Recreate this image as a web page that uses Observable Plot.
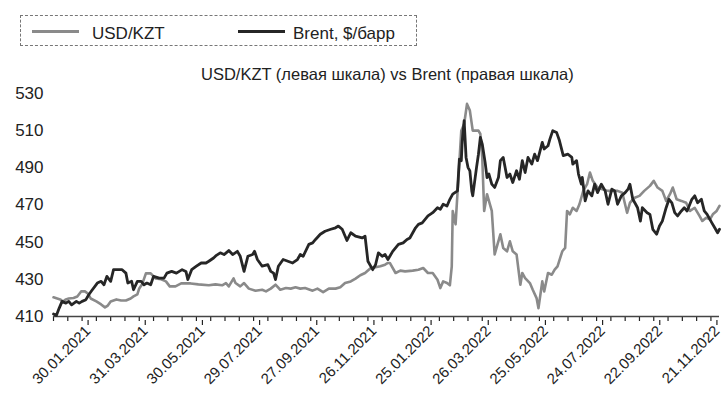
<!DOCTYPE html>
<html>
<head>
<meta charset="utf-8">
<script src="https://cdn.jsdelivr.net/npm/d3@7"></script>
<script src="https://cdn.jsdelivr.net/npm/@observablehq/plot@0.6"></script>
<style>
  html, body { margin: 0; padding: 0; background: #fff; }
  #wrap { width: 726px; height: 418px; position: relative; overflow: hidden; }
  #head { position: relative; width: 726px; height: 82px; font-family: "Liberation Sans", Arial, sans-serif; color: #222; }
  .box { position: absolute; left: 20px; top: 15px; width: 397px; height: 31px; border: 1px dashed #777; box-sizing: border-box; }
  .swatch { position: absolute; top: 30px; width: 47px; height: 3px; }
  .ltext { position: absolute; top: 25px; font-size: 17px; line-height: 17px; white-space: nowrap; }
  .title { position: absolute; left: 201px; top: 66px; font-size: 16.5px; line-height: 16.5px; white-space: nowrap; }
</style>
</head>
<body>
<div id="wrap">
  <div id="head">
    <div class="box"></div>
    <div class="swatch" style="left:32px;background:#8a8a8a"></div>
    <div class="ltext" style="left:92px">USD/KZT</div>
    <div class="swatch" style="left:238px;background:#262626"></div>
    <div class="ltext" style="left:293px">Brent, $/барр</div>
    <div class="title">USD/KZT (левая шкала) vs Brent (правая шкала)</div>
  </div>
  <div id="chart"></div>
</div>
<script>
// USD/KZT, left scale
const kztDates = ["2020-12-31","2021-01-07","2021-01-10","2021-01-13","2021-01-16","2021-01-21","2021-01-25","2021-01-29","2021-02-02","2021-02-05","2021-02-08","2021-02-14","2021-02-19","2021-02-23","2021-02-26","2021-03-01","2021-03-07","2021-03-12","2021-03-17","2021-03-22","2021-03-25","2021-03-29","2021-03-31","2021-04-03","2021-04-07","2021-04-12","2021-04-17","2021-04-23","2021-04-28","2021-05-02","2021-05-08","2021-05-14","2021-05-24","2021-06-01","2021-06-12","2021-06-19","2021-06-26","2021-06-30","2021-07-03","2021-07-08","2021-07-10","2021-07-15","2021-07-19","2021-07-24","2021-07-31","2021-08-07","2021-08-11","2021-08-16","2021-08-21","2021-08-26","2021-09-01","2021-09-06","2021-09-11","2021-09-16","2021-09-21","2021-09-29","2021-10-04","2021-10-10","2021-10-16","2021-10-23","2021-10-28","2021-11-02","2021-11-08","2021-11-13","2021-11-18","2021-11-23","2021-11-29","2021-12-04","2021-12-09","2021-12-14","2021-12-17","2021-12-19","2021-12-25","2021-12-30","2022-01-04","2022-01-12","2022-01-18","2022-01-23","2022-01-28","2022-02-02","2022-02-07","2022-02-10","2022-02-13","2022-02-17","2022-02-20","2022-02-22","2022-02-23","2022-02-26","2022-03-01","2022-03-04","2022-03-07","2022-03-10","2022-03-13","2022-03-16","2022-03-22","2022-03-24","2022-03-26","2022-03-28","2022-03-31","2022-04-05","2022-04-08","2022-04-14","2022-04-17","2022-04-21","2022-04-24","2022-04-27","2022-05-01","2022-05-05","2022-05-07","2022-05-10","2022-05-15","2022-05-18","2022-05-22","2022-05-24","2022-05-28","2022-05-30","2022-06-03","2022-06-07","2022-06-10","2022-06-13","2022-06-18","2022-06-21","2022-06-23","2022-06-26","2022-06-29","2022-07-03","2022-07-06","2022-07-10","2022-07-14","2022-07-17","2022-07-20","2022-07-25","2022-07-30","2022-08-05","2022-08-10","2022-08-15","2022-08-20","2022-08-25","2022-08-28","2022-09-02","2022-09-07","2022-09-12","2022-09-18","2022-09-22","2022-09-26","2022-10-01","2022-10-05","2022-10-09","2022-10-12","2022-10-16","2022-10-21","2022-10-26","2022-10-30","2022-11-04","2022-11-09","2022-11-12","2022-11-16","2022-11-20","2022-11-23","2022-11-27","2022-11-30"];
const kztValues = [420.3,419.2,418.1,419.2,419.7,420.0,420.8,423.5,423.5,422.4,419.7,418.1,416.5,414.9,415.9,418.1,419.2,418.6,418.6,419.7,420.8,421.9,425.1,427.3,433.2,433.2,430.5,430.0,428.9,426.2,426.2,427.8,427.8,427.3,426.8,427.3,426.8,428.0,426.2,430.5,428.0,426.2,428.0,425.0,423.9,424.4,423.5,425.0,427.1,424.4,425.3,425.0,425.7,425.0,425.3,423.9,425.0,423.1,425.0,425.0,425.7,428.0,428.9,430.4,432.2,433.4,436.1,436.5,437.0,437.9,438.8,438.8,433.4,434.7,434.3,434.7,435.2,436.1,433.4,433.4,429.8,425.3,428.9,428.0,426.8,437.0,466.8,459.6,484.8,510.0,513.6,524.4,520.8,510.0,510.0,508.2,495.6,466.8,475.8,466.8,443.4,454.2,446.9,445.1,450.5,445.1,443.4,427.1,433.4,430.7,428.0,424.4,419.9,414.5,428.9,423.5,433.4,432.5,435.2,437.0,445.1,446.9,466.8,465.0,468.5,466.8,470.4,477.6,481.2,487.5,483.0,479.4,478.5,477.6,477.6,477.6,476.6,465.8,471.2,473.9,474.9,477.6,480.3,483.0,479.4,477.6,472.2,475.8,479.4,473.1,472.2,471.2,466.8,468.5,464.1,461.4,463.1,462.3,465.0,466.8,469.5];

// Brent, $/bbl, right scale (50..140 mapped onto 410..530)
const brentDates = ["2020-12-31","2021-01-03","2021-01-06","2021-01-09","2021-01-13","2021-01-16","2021-01-19","2021-01-24","2021-01-27","2021-01-30","2021-02-03","2021-02-06","2021-02-09","2021-02-15","2021-02-19","2021-02-22","2021-02-25","2021-03-01","2021-03-04","2021-03-10","2021-03-13","2021-03-17","2021-03-19","2021-03-23","2021-03-25","2021-03-29","2021-04-02","2021-04-05","2021-04-08","2021-04-12","2021-04-15","2021-04-21","2021-04-26","2021-04-29","2021-05-04","2021-05-09","2021-05-15","2021-05-19","2021-05-21","2021-05-25","2021-05-30","2021-06-04","2021-06-09","2021-06-12","2021-06-17","2021-06-20","2021-06-24","2021-06-28","2021-07-03","2021-07-07","2021-07-12","2021-07-15","2021-07-19","2021-07-23","2021-07-28","2021-07-30","2021-08-02","2021-08-07","2021-08-13","2021-08-16","2021-08-19","2021-08-21","2021-08-24","2021-08-29","2021-09-03","2021-09-08","2021-09-13","2021-09-16","2021-09-19","2021-09-25","2021-09-29","2021-10-02","2021-10-07","2021-10-12","2021-10-18","2021-10-23","2021-10-26","2021-10-30","2021-11-04","2021-11-08","2021-11-13","2021-11-20","2021-11-23","2021-11-26","2021-12-01","2021-12-04","2021-12-07","2021-12-11","2021-12-14","2021-12-17","2021-12-22","2021-12-25","2021-12-28","2022-01-02","2022-01-06","2022-01-09","2022-01-15","2022-01-18","2022-01-22","2022-01-25","2022-01-28","2022-02-02","2022-02-07","2022-02-10","2022-02-13","2022-02-17","2022-02-20","2022-02-23","2022-02-28","2022-03-02","2022-03-04","2022-03-05","2022-03-07","2022-03-09","2022-03-11","2022-03-13","2022-03-15","2022-03-16","2022-03-20","2022-03-22","2022-03-24","2022-03-26","2022-03-29","2022-03-31","2022-04-02","2022-04-05","2022-04-08","2022-04-12","2022-04-14","2022-04-17","2022-04-21","2022-04-24","2022-04-27","2022-05-01","2022-05-04","2022-05-07","2022-05-10","2022-05-13","2022-05-17","2022-05-20","2022-05-23","2022-05-28","2022-05-30","2022-06-03","2022-06-05","2022-06-08","2022-06-12","2022-06-15","2022-06-19","2022-06-24","2022-06-28","2022-06-29","2022-07-03","2022-07-05","2022-07-08","2022-07-09","2022-07-12","2022-07-15","2022-07-19","2022-07-22","2022-07-25","2022-07-29","2022-08-02","2022-08-05","2022-08-09","2022-08-12","2022-08-15","2022-08-19","2022-08-23","2022-08-26","2022-08-28","2022-08-31","2022-09-03","2022-09-05","2022-09-08","2022-09-10","2022-09-15","2022-09-18","2022-09-21","2022-09-25","2022-09-28","2022-10-01","2022-10-05","2022-10-08","2022-10-11","2022-10-14","2022-10-17","2022-10-21","2022-10-24","2022-10-27","2022-11-01","2022-11-04","2022-11-07","2022-11-11","2022-11-14","2022-11-17","2022-11-22","2022-11-25","2022-11-28","2022-11-30"];
const brentValues = [51.0,50.4,53.4,56.1,55.4,56.1,54.7,56.1,55.4,56.1,56.8,58.8,60.4,63.5,64.2,62.8,66.2,64.2,68.9,68.9,68.9,67.5,63.5,64.2,60.8,64.2,64.2,62.8,63.5,62.8,66.2,65.5,65.5,67.5,68.2,67.5,68.9,68.2,64.9,68.9,70.3,71.6,71.6,72.3,73.6,74.7,75.7,75.0,76.6,75.0,76.3,74.3,68.2,74.3,75.0,76.3,73.0,70.3,70.9,68.2,67.5,64.9,70.3,73.0,72.3,71.6,73.0,75.0,74.3,79.1,79.7,81.1,83.2,84.4,85.2,85.8,86.5,85.2,80.7,83.8,82.4,81.7,82.4,72.3,68.9,70.9,75.7,74.3,75.0,73.0,76.3,77.7,79.1,79.7,81.1,81.7,85.8,87.2,87.8,89.2,90.6,91.9,93.9,93.3,95.3,94.6,97.3,99.4,100.7,113.5,112.9,120.9,129.0,114.2,110.2,108.8,100.7,98.7,110.2,115.5,122.3,119.6,112.2,106.1,107.5,103.4,102.1,106.1,112.9,114.2,106.1,107.5,104.1,108.8,105.4,112.9,108.1,114.2,111.5,115.5,112.9,120.3,117.6,118.9,121.6,125.0,124.3,121.0,114.9,115.5,114.2,111.5,112.9,107.5,103.4,106.1,96.7,100.7,98.7,103.4,100.0,103.4,100.7,95.3,101.4,100.7,95.3,98.7,100.0,101.4,103.4,97.3,95.3,93.9,88.5,93.9,91.9,91.2,85.2,83.2,86.5,88.5,93.9,97.3,95.9,91.9,90.6,92.6,93.9,92.6,97.3,98.7,95.9,97.3,92.6,91.2,87.8,85.8,83.8,85.2];

// axis
const yTicks = [410, 430, 450, 470, 490, 510, 530];
const xTickLabels = ["30.01.2021","31.03.2021","30.05.2021","29.07.2021","27.09.2021","26.11.2021","25.01.2022","26.03.2022","25.05.2022","24.07.2022","22.09.2022","21.11.2022"];
const xDomain = ["2020-12-31", "2022-11-30"];
const brentRange = [50, 140];   // hidden right scale
const kztRange = [410, 530];

const parseLabel = d3.utcParse("%d.%m.%Y");
const fmt = d3.utcFormat("%d.%m.%Y");
const majorTicks = xTickLabels.map(parseLabel);
const d0 = new Date(xDomain[0]), d1 = new Date(xDomain[1]);
const minorTicks = [];
for (let t = d0; t <= d1; t = d3.utcDay.offset(t, 15)) minorTicks.push(t);

const kzt = kztDates.map((d, i) => ({date: new Date(d), value: kztValues[i]}));
const toLeft = b => kztRange[0] + (b - brentRange[0]) * (kztRange[1] - kztRange[0]) / (brentRange[1] - brentRange[0]);
const brent = brentDates.map((d, i) => ({date: new Date(d), value: brentValues[i]}));

const chart = Plot.plot({
  width: 726,
  height: 336,
  marginLeft: 53,
  marginRight: 7,
  marginTop: 11,
  marginBottom: 102,
  style: {fontFamily: "'Liberation Sans', Arial, sans-serif", fontSize: "15px", color: "#222", background: "#fff", overflow: "visible"},
  x: {type: "utc", domain: [d0, d1]},
  y: {domain: kztRange},
  marks: [
    Plot.axisY({ticks: yTicks, tickSize: 0, tickPadding: 10, label: null, fontSize: 17}),
    Plot.axisX({ticks: minorTicks, tickSize: 5, tickFormat: () => "", label: null, strokeWidth: 1.2}),
    Plot.axisX({ticks: majorTicks, tickSize: 5, tickPadding: 3, tickRotate: -45, textAnchor: "end", tickFormat: fmt, label: null, fontSize: 15, strokeWidth: 1.2, dx: 6, dy: 4}),
    Plot.ruleY([kztRange[0]], {stroke: "#444", strokeWidth: 1.5}),
    Plot.line(kzt, {x: "date", y: "value", stroke: "#8a8a8a", strokeWidth: 2.6}),
    Plot.line(brent, {x: "date", y: d => toLeft(d.value), stroke: "#262626", strokeWidth: 2.8})
  ]
});
document.getElementById("chart").appendChild(chart);
</script>
</body>
</html>
